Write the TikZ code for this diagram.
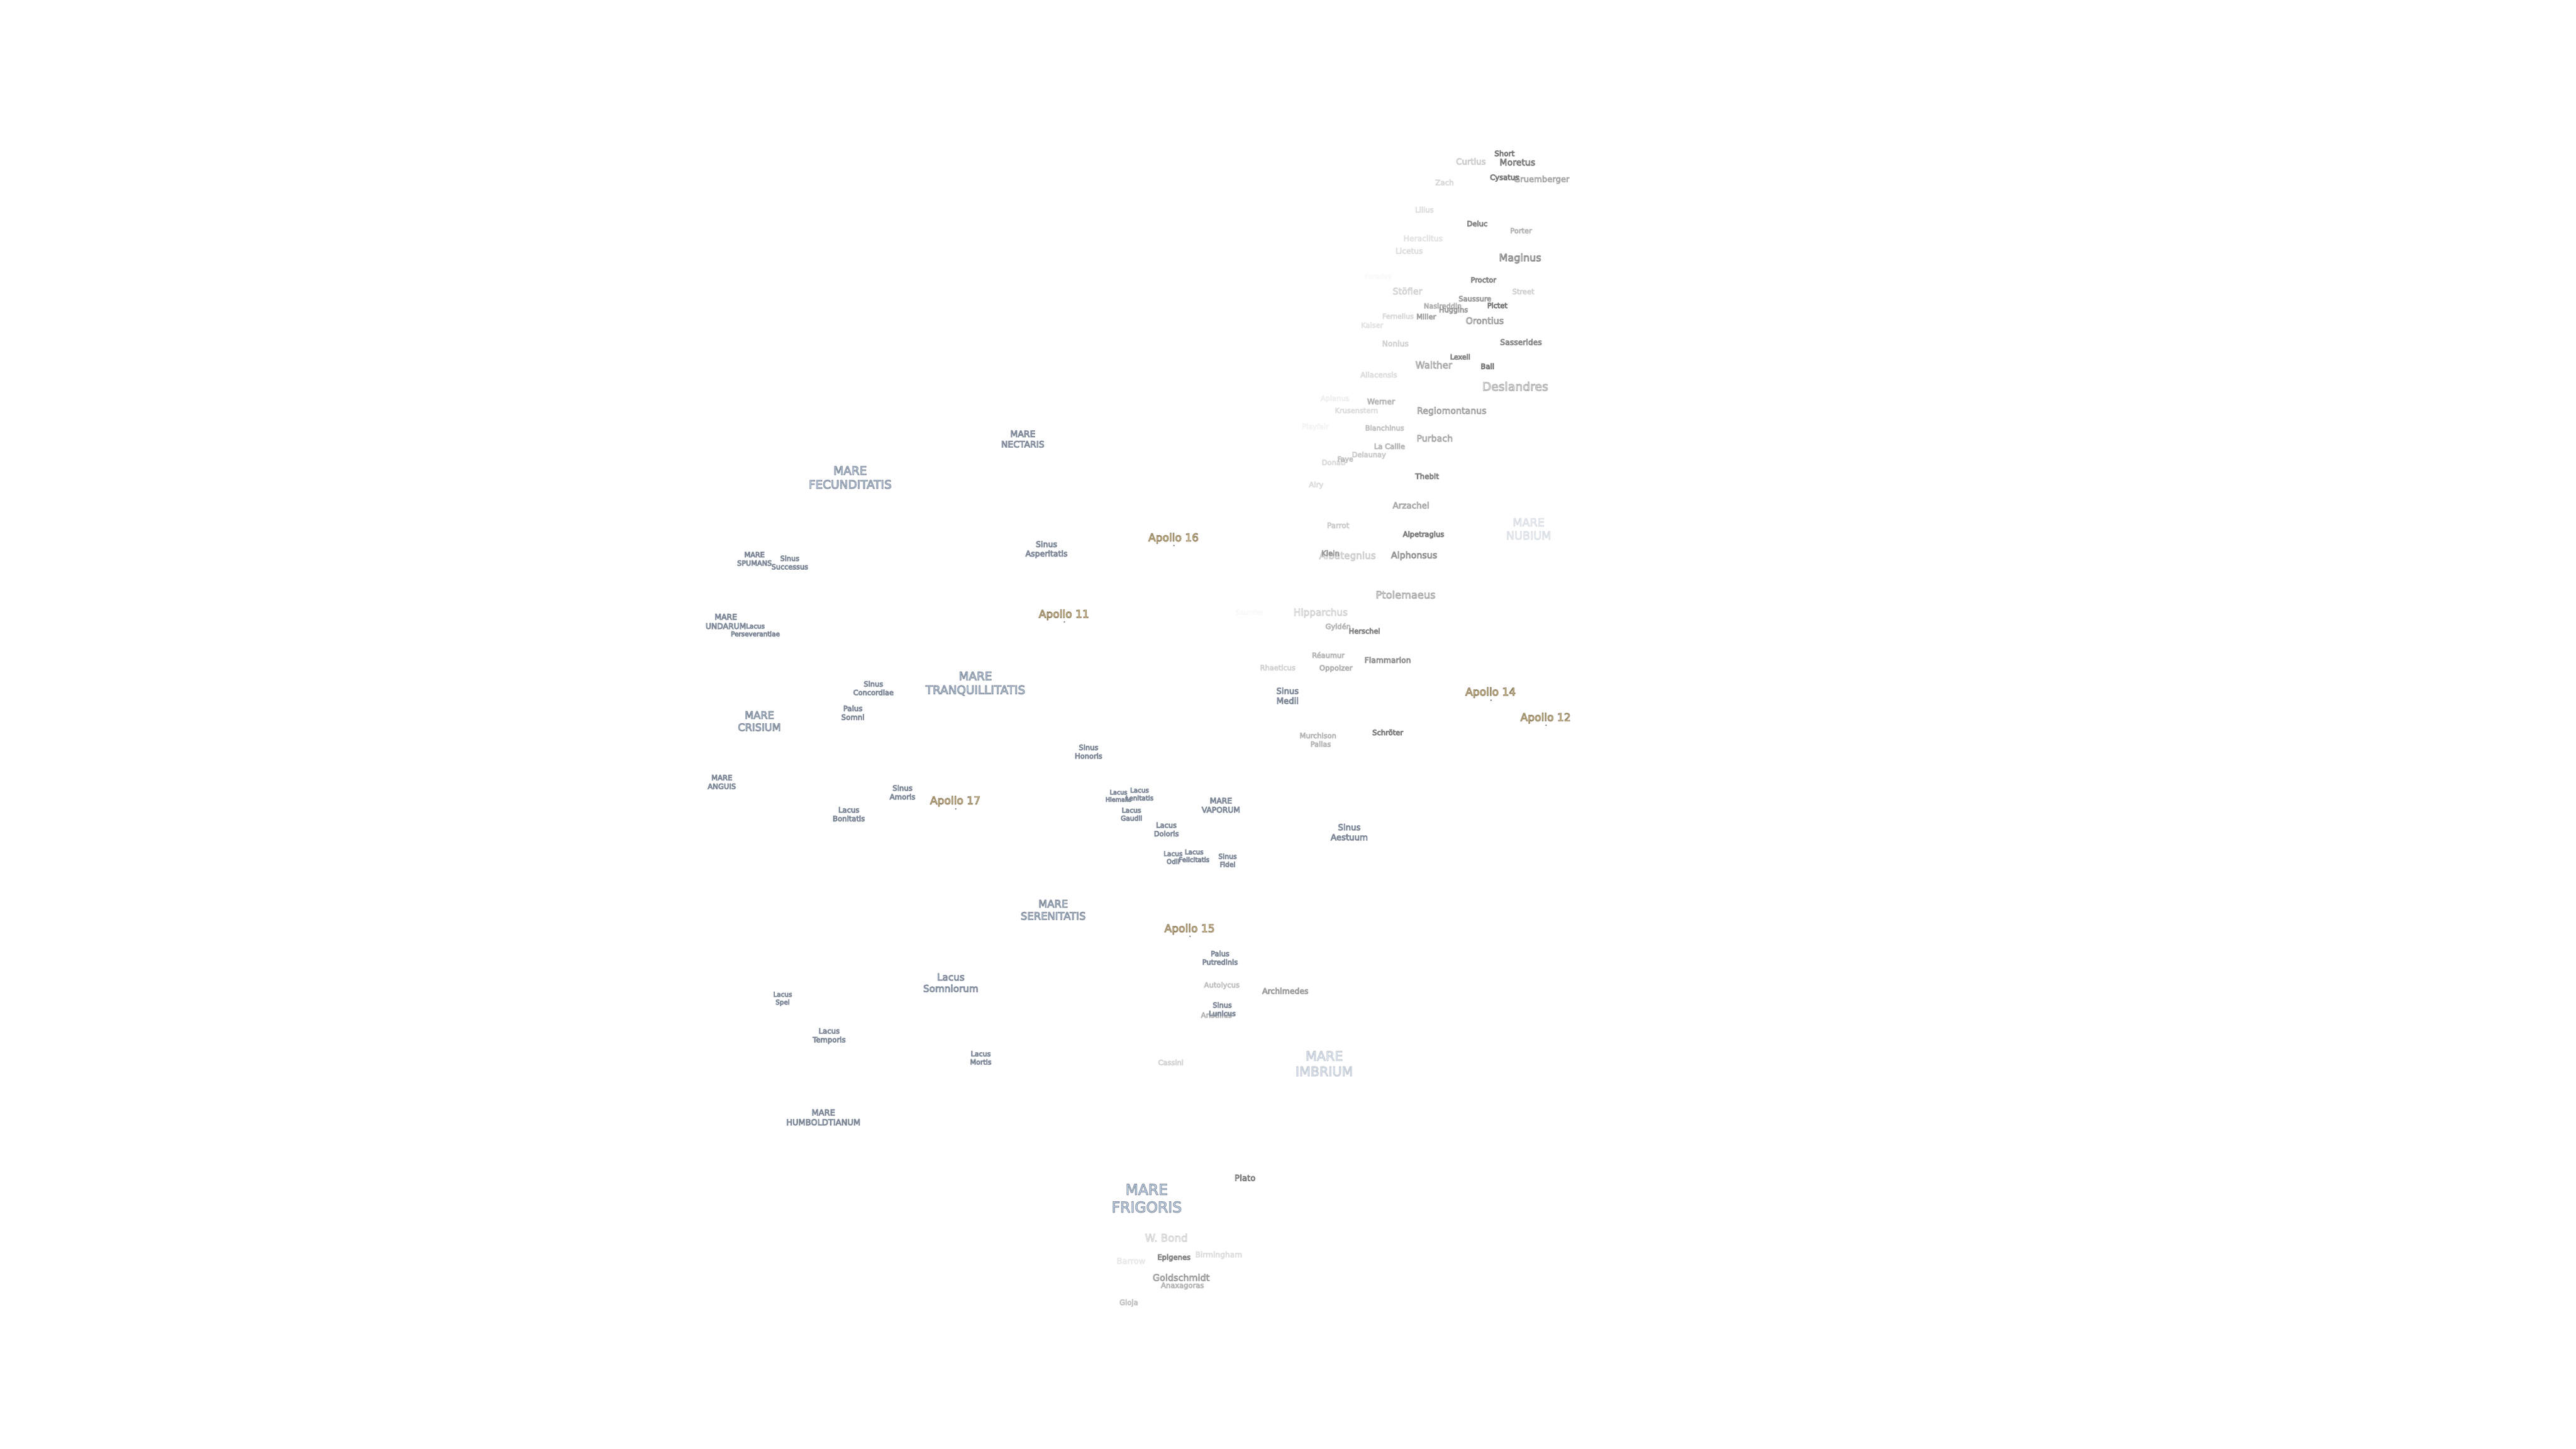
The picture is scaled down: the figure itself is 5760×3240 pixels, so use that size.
\documentclass[tikz,border=0pt]{standalone}
\usepackage{fontspec}
\setmainfont{DejaVu Sans}
\usepackage{tikz}
\definecolor{marefill}{RGB}{205,226,248}
\definecolor{apollofill}{RGB}{255,224,172}
\definecolor{craterfill}{RGB}{236,236,236}
% sizes are given in pixels of the map, 1px = 0.01cm
\newcommand{\pxfont}[1]{\fontsize{\fpeval{#1*0.2845}}{\fpeval{#1*0.2845*1.19}}\selectfont}
\newcommand{\outlined}[3]{\special{pdf:code 2 Tr #1 w #2 RG}#3\special{pdf:code 0 Tr}}

\begin{document}
\begin{tikzpicture}[x=0.01cm,y=-0.01cm,
	every node/.style={inner sep=0pt,align=center},
	sz/.style={font=\pxfont{#1}},
	fade/.style={opacity=#1},
	mare/.style={text=marefill},
	apollo/.style={text=apollofill},
	crater/.style={text=craterfill},
	site/.style={circle,fill=black!55,minimum size=0.035cm}]
	\newcommand{\mk}[1]{\outlined{0.38}{0.50 0.54 0.60}{#1}}
	\newcommand{\gk}[1]{\outlined{0.38}{0.48 0.48 0.48}{#1}}
	\newcommand{\ak}[1]{\outlined{0.38}{0.56 0.50 0.38}{#1}}

	\fill[white] (0,0) rectangle (5760,3240);

	\begin{scope}[shift={(1,1)}]
	% seas, bays and lakes
	\node[mare,sz=33] (frigoris) at (2563,2679) {\mk{MARE\\FRIGORIS}};
	\node[mare,sz=26] (fecunditatis) at (1900,1067) {\mk{MARE\\FECUNDITATIS}};
	\node[mare,sz=25.9] (tranquillitatis) at (2180,1528) {\mk{MARE\\TRANQUILLITATIS}};
	\node[mare,sz=22.8] (crisium) at (1697,1612) {\mk{MARE\\CRISIUM}};
	\node[mare,sz=23] (serenitatis) at (2354,2034) {\mk{MARE\\SERENITATIS}};
	\node[mare,sz=19.6] (nectaris) at (2286,981) {\mk{MARE\\NECTARIS}};
	\node[mare,sz=17.2] (vaporum) at (2729,1800) {\mk{MARE\\VAPORUM}};
	\node[mare,sz=18.3] (humboldtianum) at (1840,2498) {\mk{MARE\\HUMBOLDTIANUM}};
	\node[mare,sz=15.8] (spumans) at (1686,1249) {\mk{MARE\\SPUMANS}};
	\node[mare,sz=17.4] (undarum) at (1622,1389) {\mk{MARE\\UNDARUM}};
	\node[mare,sz=16.3] (anguis) at (1613,1748) {\mk{MARE\\ANGUIS}};
	\node[mare,sz=29,fade=.45] (imbrium) at (2960,2378) {\mk{MARE\\IMBRIUM}};
	\node[mare,sz=24.8,fade=.25] (nubium) at (3417,1182) {\mk{MARE\\NUBIUM}};
	\node[mare,sz=15.8] (successus) at (1765,1257) {\mk{Sinus\\Successus}};
	\node[mare,sz=17.6] (asperitatis) at (2339,1228) {\mk{Sinus\\Asperitatis}};
	\node[mare,sz=16] (concordiae) at (1952,1538) {\mk{Sinus\\Concordiae}};
	\node[mare,sz=16.1] (honoris) at (2433,1680) {\mk{Sinus\\Honoris}};
	\node[mare,sz=16.5] (amoris) at (2017,1771) {\mk{Sinus\\Amoris}};
	\node[mare,sz=15.2] (fidei) at (2744,1923) {\mk{Sinus\\Fidei}};
	\node[mare,sz=18.7] (aestuum) at (3016,1860) {\mk{Sinus\\Aestuum}};
	\node[mare,sz=18.5] (medii) at (2878,1555) {\mk{Sinus\\Medii}};
	\node[mare,sz=16.5] (somni) at (1906,1593) {\mk{Palus\\Somni}};
	\node[mare,sz=16] (putredinis) at (2727,2141) {\mk{Palus\\Putredinis}};
	\node[mare,sz=14.6] (perseverantiae) at (1688,1408) {\mk{Lacus\\Perseverantiae}};
	\node[mare,sz=16.3] (bonitatis) at (1897,1820) {\mk{Lacus\\Bonitatis}};
	\node[mare,sz=13.5] (hiemalis) at (2500,1779) {\mk{Lacus\\Hiemalis}};
	\node[mare,sz=14.6] (lenitatis) at (2547,1775) {\mk{Lacus\\Lenitatis}};
	\node[mare,sz=15] (gaudii) at (2529,1820) {\mk{Lacus\\Gaudii}};
	\node[mare,sz=16] (doloris) at (2607,1854) {\mk{Lacus\\Doloris}};
	\node[mare,sz=14.7] (odii) at (2622,1917) {\mk{Lacus\\Odii}};
	\node[mare,sz=14.5] (felicitatis) at (2669,1913) {\mk{Lacus\\Felicitatis}};
	\node[mare,sz=14.6] (spei) at (1749,2233) {\mk{Lacus\\Spei}};
	\node[mare,sz=16.4] (temporis) at (1853,2316) {\mk{Lacus\\Temporis}};
	\node[mare,sz=21.4] (somniorum) at (2125,2197) {\mk{Lacus\\Somniorum}};
	\node[mare,sz=15.5] (mortis) at (2192,2365) {\mk{Lacus\\Mortis}};

	% landing sites
	\node[apollo,sz=24] (apolloXI) at (2378,1374) {\ak{Apollo 11}};
	\node[apollo,sz=24] (apolloXII) at (3455,1605) {\ak{Apollo 12}};
	\node[apollo,sz=24] (apolloXIV) at (3332,1548) {\ak{Apollo 14}};
	\node[apollo,sz=24] (apolloXV) at (2659,2077) {\ak{Apollo 15}};
	\node[apollo,sz=24] (apolloXVI) at (2623,1203) {\ak{Apollo 16}};
	\node[apollo,sz=24] (apolloXVII) at (2135,1791) {\ak{Apollo 17}};
	\node[site] (siteXI) at (2379,1390) {};
	\node[site] (siteXII) at (3456,1621) {};
	\node[site] (siteXIV) at (3333,1565) {};
	\node[site] (siteXV) at (2660,2093) {};
	\node[site] (siteXVI) at (2624,1219) {};
	\node[site] (siteXVII) at (2136,1808) {};

	% craters, south to north
	\node[crater,sz=16.6,fade=1] (short) at (3363,342) {\gk{Short}};
	\node[crater,sz=19.8,fade=.95] (moretus) at (3392,362) {\gk{Moretus}};
	\node[crater,sz=18.7,fade=.35] (curtius) at (3288,360) {\gk{Curtius}};
	\node[crater,sz=18.5,fade=.6] (gruemberger) at (3446,401) {\gk{Gruemberger}};
	\node[crater,sz=16.3,fade=1] (cysatus) at (3363,397) {\gk{Cysatus}};
	\node[crater,sz=16.6,fade=.25] (zach) at (3229,407) {\gk{Zach}};
	\node[crater,sz=16.2,fade=.22] (lilius) at (3184,468) {\gk{Lilius}};
	\node[crater,sz=16.1,fade=.9] (deluc) at (3302,499) {\gk{Deluc}};
	\node[crater,sz=16.1,fade=.5] (porter) at (3400,515) {\gk{Porter}};
	\node[crater,sz=17.4,fade=.18] (heraclitus) at (3181,532) {\gk{Heraclitus}};
	\node[crater,sz=17.2,fade=.22] (licetus) at (3150,560) {\gk{Licetus}};
	\node[crater,sz=22.6,fade=.85] (maginus) at (3398,577) {\gk{Maginus}};
	\node[crater,sz=15.3,fade=.03] (faraday) at (3081,618) {\gk{Faraday}};
	\node[crater,sz=16,fade=.9] (proctor) at (3316,625) {\gk{Proctor}};
	\node[crater,sz=20,fade=.3] (stoefler) at (3146,650) {\gk{Stöfler}};
	\node[crater,sz=16.2,fade=.3] (street) at (3405,651) {\gk{Street}};
	\node[crater,sz=16,fade=.7] (saussure) at (3297,667) {\gk{Saussure}};
	\node[crater,sz=16,fade=1] (pictet) at (3347,682) {\gk{Pictet}};
	\node[crater,sz=15.8,fade=.55] (nasireddin) at (3225,683) {\gk{Nasireddin}};
	\node[crater,sz=15.8,fade=.7] (huggins) at (3249,693) {\gk{Huggins}};
	\node[crater,sz=15.6,fade=.25] (fernelius) at (3125,706) {\gk{Fernelius}};
	\node[crater,sz=16,fade=.65] (miller) at (3188,707) {\gk{Miller}};
	\node[crater,sz=20,fade=.7] (orontius) at (3319,716) {\gk{Orontius}};
	\node[crater,sz=16,fade=.18] (kaiser) at (3067,726) {\gk{Kaiser}};
	\node[crater,sz=17.3,fade=.3] (nonius) at (3119,767) {\gk{Nonius}};
	\node[crater,sz=17.4,fade=.85] (sasserides) at (3400,764) {\gk{Sasserides}};
	\node[crater,sz=15.7,fade=.9] (lexell) at (3264,797) {\gk{Lexell}};
	\node[crater,sz=21.2,fade=.6] (walther) at (3205,815) {\gk{Walther}};
	\node[crater,sz=16.4,fade=1] (ball) at (3325,818) {\gk{Ball}};
	\node[crater,sz=16.5,fade=.22] (aliacensis) at (3082,837) {\gk{Aliacensis}};
	\node[crater,sz=26.4,fade=.6] (deslandres) at (3387,863) {\gk{Deslandres}};
	\node[crater,sz=16,fade=.1] (apianus) at (2984,891) {\gk{Apianus}};
	\node[crater,sz=17.2,fade=.5] (werner) at (3087,897) {\gk{Werner}};
	\node[crater,sz=16,fade=.22] (krusenstern) at (3032,917) {\gk{Krusenstern}};
	\node[crater,sz=19.9,fade=.65] (regiomontanus) at (3245,919) {\gk{Regiomontanus}};
	\node[crater,sz=15.9,fade=.07] (playfair) at (2940,954) {\gk{Playfair}};
	\node[crater,sz=15.9,fade=.42] (blanchinus) at (3095,956) {\gk{Blanchinus}};
	\node[crater,sz=19.9,fade=.6] (purbach) at (3207,979) {\gk{Purbach}};
	\node[crater,sz=16.3,fade=.5] (lacaille) at (3106,997) {\gk{La Caille}};
	\node[crater,sz=16,fade=.25] (donati) at (2981,1033) {\gk{Donati}};
	\node[crater,sz=16,fade=.35] (delaunay) at (3060,1017) {\gk{Delaunay}};
	\node[crater,sz=15.3,fade=.42] (faye) at (3007,1027) {\gk{Faye}};
	\node[crater,sz=16.7,fade=.9] (thebit) at (3190,1064) {\gk{Thebit}};
	\node[crater,sz=16.5,fade=.22] (airy) at (2942,1084) {\gk{Airy}};
	\node[crater,sz=19,fade=.6] (arzachel) at (3154,1129) {\gk{Arzachel}};
	\node[crater,sz=16.8,fade=.35] (parrot) at (2991,1174) {\gk{Parrot}};
	\node[crater,sz=16.2,fade=.95] (alpetragius) at (3182,1195) {\gk{Alpetragius}};
	\node[crater,sz=21.4,fade=.35] (albategnius) at (3012,1243) {\gk{Albategnius}};
	\node[crater,sz=16.3,fade=.7] (klein) at (2974,1236) {\gk{Klein}};
	\node[crater,sz=20,fade=.8] (alphonsus) at (3161,1242) {\gk{Alphonsus}};
	\node[crater,sz=22.8,fade=.6] (ptolemaeus) at (3142,1329) {\gk{Ptolemaeus}};
	\node[crater,sz=15,fade=.03] (saunder) at (2793,1368) {\gk{Saunder}};
	\node[crater,sz=21.4,fade=.3] (hipparchus) at (2952,1370) {\gk{Hipparchus}};
	\node[crater,sz=16,fade=.5] (gylden) at (2991,1401) {\gk{Gyldén}};
	\node[crater,sz=16,fade=.9] (herschel) at (3050,1410) {\gk{Herschel}};
	\node[crater,sz=16,fade=.5] (reaumur) at (2969,1464) {\gk{Réaumur}};
	\node[crater,sz=17.4,fade=.8] (flammarion) at (3102,1475) {\gk{Flammarion}};
	\node[crater,sz=16,fade=.3] (rhaeticus) at (2856,1492) {\gk{Rhaeticus}};
	\node[crater,sz=16.4,fade=.55] (oppolzer) at (2986,1494) {\gk{Oppolzer}};
	\node[crater,sz=16.2,fade=.95] (schroeter) at (3102,1637) {\gk{Schröter}};
	\node[crater,sz=16,fade=.5] (murchison) at (2946,1644) {\gk{Murchison}};
	\node[crater,sz=16,fade=.5] (pallas) at (2952,1663) {\gk{Pallas}};
	\node[crater,sz=16.2,fade=.42] (autolycus) at (2731,2203) {\gk{Autolycus}};
	\node[crater,sz=17.5,fade=.7] (archimedes) at (2873,2215) {\gk{Archimedes}};
	\node[crater,sz=16.2,fade=.5] (aristillus) at (2719,2269) {\gk{Aristillus}};
	\node[mare,sz=15.8] (lunicus) at (2732,2256) {\mk{Sinus\\Lunicus}};
	\node[crater,sz=16,fade=.3] (cassini) at (2617,2375) {\gk{Cassini}};
	\node[crater,sz=18.7,fade=.95] (plato) at (2783,2633) {\gk{Plato}};
	\node[crater,sz=23.4,fade=.3] (bond) at (2607,2767) {\gk{W. Bond}};
	\node[crater,sz=17.2,fade=.22] (birmingham) at (2724,2806) {\gk{Birmingham}};
	\node[crater,sz=16.2,fade=.9] (epigenes) at (2624,2812) {\gk{Epigenes}};
	\node[crater,sz=18.3,fade=.14] (barrow) at (2528,2819) {\gk{Barrow}};
	\node[crater,sz=20.2,fade=.7] (goldschmidt) at (2640,2856) {\gk{Goldschmidt}};
	\node[crater,sz=16.2,fade=.5] (anaxagoras) at (2643,2875) {\gk{Anaxagoras}};
	\node[crater,sz=16.3,fade=.42] (gioja) at (2523,2913) {\gk{Gioja}};
	\end{scope}
\end{tikzpicture}
\end{document}
